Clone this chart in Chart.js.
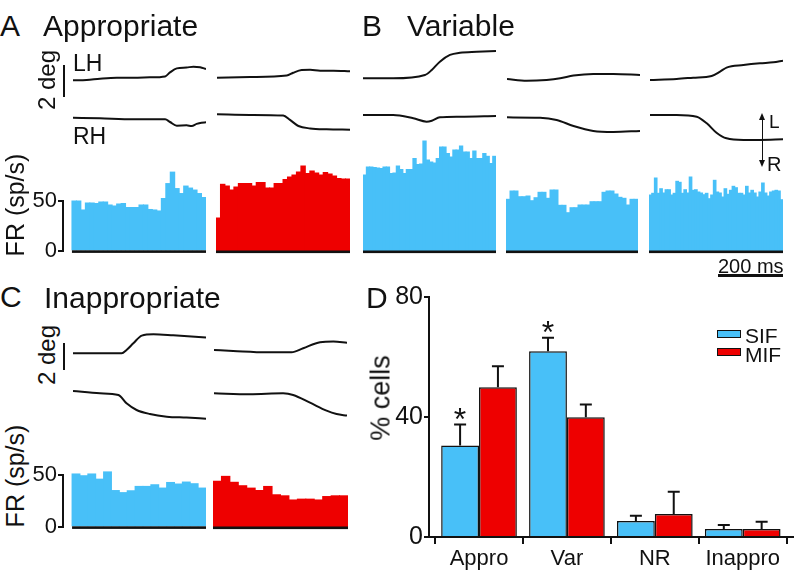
<!DOCTYPE html>
<html><head><meta charset="utf-8">
<script src="https://cdn.jsdelivr.net/npm/chart.js@4.4.1/dist/chart.umd.min.js"></script>
<style>
html,body{margin:0;padding:0;background:#fff;}
#fig{position:relative;width:796px;height:572px;overflow:hidden;font-family:"Liberation Sans",Arial,Helvetica,sans-serif;color:#111;}
#fig canvas{position:absolute;}
.t{position:absolute;white-space:nowrap;line-height:1;}
.rot{position:absolute;white-space:nowrap;line-height:1;transform:translate(-50%,-50%) rotate(-90deg);}
.ln{position:absolute;background:#111;}
.box{position:absolute;box-sizing:border-box;border:1.5px solid #111;}
</style></head><body><div id="fig"></div>
<script>
// ---------------- DATA ----------------
// Firing-rate histograms (sp/s), one value per bin
const A1_FR = [50,50,41,48,48,47.5,49,49,46,45,47,47.5,43.5,43.5,43.5,46,46,41.5,41,40,52.5,67.5,79,62.5,57.5,65,63,61,57.5,53.5];
const A2_FR = [33,66.7,65,61,64,67.5,67.5,67.5,65,68.5,68.5,63,63,67.5,67.5,71.5,74,76,79,85,77.5,80,78,76,78.5,77,75,72.5,72,72];
const B1_FR = [76,84,84,83.5,83,82.5,84,84,77.5,78,85,81.5,77.5,81.5,81.5,92.5,86.5,87,110,91,89,88,92.5,104,104,97.5,94,101,101,105,99,99,92.5,100,92.5,92.5,97.5,94.7,87.5,94.7];
const B2_FR = [51.7,60,60,54.3,54.3,55,50.3,53.3,58.7,58.7,52.7,61,61,45.7,45.7,38.3,43.3,43.3,46,46,46,49.3,49.3,49.3,58.7,60,60,57,53.7,52.7,46,51.7,51.7];
const B3_FR = [56,57.7,73,57.7,62.3,58,61.3,61.3,56,57.7,69.7,68.7,57.7,61.3,58,74,60.7,61.3,59,58,56.3,57.7,52.3,56,70.7,59,58,54,62.3,56.7,60.7,64.7,63.3,57.7,57.7,56,64.7,58,60.7,58,54,59,68,58,55,59,60,60.7,60,51.3];
const C1_FR = [51,49.3,51,46,53,35,33,34.8,39,39,40.6,37.4,42.8,41.3,43.2,41.6,37.4];
const C2_FR = [44,48.7,43,39.7,37.4,35.1,39,31,30,26,26.8,26.8,26,29.3,30,30];
const FR_TICKS = [0, 50];

// Eye position traces: [time (ms), position (deg)]
const A1_LH = [[0,4.36],[42,4.38],[83,4.46],[135,4.52],[186,4.52],[237,4.54],[284,4.6],[299,4.85],[320,5.1],[350,5.15],[371,5.21],[392,5.17],[410,5.06]];
const A1_RH = [[0,2.02],[83,1.98],[186,1.92],[284,1.92],[299,1.75],[320,1.52],[350,1.54],[366,1.5],[381,1.63],[396,1.71],[410,1.73]];
const A2_LH = [[0,4.52],[102,4.56],[215,4.65],[235,4.83],[261,5.0],[287,5.02],[318,4.96],[359,4.96],[410,4.92]];
const A2_RH = [[0,2.23],[102,2.19],[204,2.15],[225,1.88],[251,1.5],[287,1.35],[338,1.29],[410,1.27]];
const B1_LH = [[0,4.48],[93,4.48],[191,4.69],[212,5.0],[237,5.52],[268,5.94],[299,6.08],[351,6.14],[410,6.19]];
const B1_RH = [[0,2.19],[93,2.19],[155,1.98],[196,1.77],[212,1.83],[237,2.04],[299,2.08],[410,2.13]];
const B2_LH = [[0,4.44],[61,4.33],[122,4.38],[164,4.48],[205,4.65],[266,4.75],[328,4.75],[410,4.69]];
const B2_RH = [[0,2.04],[102,2.02],[153,1.88],[205,1.5],[266,1.19],[328,1.13],[410,1.19]];
const B3_LH = [[0,4.38],[82,4.44],[133,4.52],[190,4.63],[216,4.9],[236,5.15],[288,5.31],[339,5.42],[380,5.48],[410,5.58]];
const B3_RH = [[0,2.19],[82,2.19],[144,2.08],[175,1.67],[205,1.08],[236,0.73],[288,0.63],[339,0.63],[410,0.67]];
const C1_LH = [[0,5.75],[83,5.75],[150,5.75],[165,6.0],[186,6.5],[212,7.08],[248,7.18],[309,7.1],[410,6.93]];
const C1_RH = [[0,2.93],[83,2.75],[140,2.63],[165,2.0],[196,1.5],[237,1.2],[289,1.0],[350,0.93],[410,0.85]];
const C2_LH = [[0,6.0],[59,5.93],[162,5.83],[239,5.83],[275,6.13],[327,6.58],[368,6.63],[410,6.55]];
const C2_RH = [[0,2.75],[110,2.68],[213,2.75],[244,2.63],[296,2.05],[347,1.45],[378,1.2],[410,1.08]];
const T_SPAN = 410;

// Panel D: % cells
const D_CATEGORIES = ['Appro','Var','NR','Inappro'];
const SIF_PCT = [30.5, 62, 5.3, 2.7];
const SIF_SEM = [7, 4.5, 1.8, 1.3];
const MIF_PCT = [50, 40, 7.7, 2.7];
const MIF_SEM = [7, 4.2, 7.4, 2.4];
const SIF_SIG = [true, true, false, false];
const D_TICKS = [0, 40, 80];

// ---------------- STYLE ----------------
const FONT = '"Liberation Sans", Arial, Helvetica, sans-serif';
const BLUE = '#48c0f8';
const RED = '#ee0000';
const INK = '#111111';
const fig = document.getElementById('fig');

function mk(l,t,w,h){
  const c=document.createElement('canvas');
  c.width=w; c.height=h;
  c.style.left=l+'px'; c.style.top=t+'px'; c.style.width=w+'px'; c.style.height=h+'px';
  fig.appendChild(c); return c;
}
function txt(s,l,t,size,cls){
  const d=document.createElement('div'); d.className=cls||'t'; d.textContent=s;
  d.style.left=l+'px'; d.style.top=t+'px'; d.style.fontSize=size+'px'; fig.appendChild(d); return d;
}
function ln(l,t,w,h){ const d=document.createElement('div'); d.className='ln';
  d.style.left=l+'px'; d.style.top=t+'px'; d.style.width=w+'px'; d.style.height=h+'px'; fig.appendChild(d); }

const base = {responsive:false, animation:false, events:[], plugins:{legend:{display:false}, tooltip:{enabled:false}}};

function traceChart(l,t,w,h,yMax,series){
  new Chart(mk(l,t,w,h), {
    type:'line',
    data:{datasets:series.map(s=>({data:s.map(p=>({x:p[0],y:p[1]})), borderColor:INK, borderWidth:2,
      pointRadius:0, cubicInterpolationMode:'monotone', fill:false, clip:4}))},
    options:Object.assign({}, base, {layout:{padding:0},
      scales:{x:{type:'linear',min:0,max:T_SPAN,display:false}, y:{type:'linear',min:0,max:yMax,display:false}}})
  });
}

const baselinePlugin = {id:'baseline', afterDatasetsDraw(chart){
  const {ctx, scales:{x,y}} = chart; const n = chart.data.datasets[0].data.length;
  const y0 = y.getPixelForValue(0), x0 = x.getPixelForValue(-0.5), x1 = x.getPixelForValue(n-0.5);
  ctx.save(); ctx.fillStyle=INK; ctx.fillRect(x0, y0-0.5, x1-x0, 2.6); ctx.restore();
}};

function histChart(o){
  const n=o.vals.length;
  new Chart(mk(o.l,o.t,o.w,o.h), {
    type:'bar',
    data:{datasets:[{data:o.vals.map((v,i)=>({x:i,y:v})), backgroundColor:o.color, borderWidth:0,
      barPercentage:1, categoryPercentage:1, inflateAmount:0.5, clip:false}]},
    options:Object.assign({}, base, {
      layout:{padding:{top:o.pt,bottom:o.pb,left:0,right:0}},
      scales:{
        x:{type:'linear',display:false,offset:false,min:(o.xMin!==undefined?o.xMin:-0.5),max:n-0.5,
           afterBuildTicks:s=>{s.ticks=[{value:0}];}},
        y:{type:'linear',min:0,max:50,display:!!o.showY,
           afterBuildTicks:s=>{s.ticks=FR_TICKS.map(v=>({value:v}));},
           afterFit:s=>{if(o.showY) s.width=o.yW;},
           grid:{drawOnChartArea:false,drawTicks:true,tickLength:5,color:INK,lineWidth:2},
           border:{display:true,color:INK,width:2},
           ticks:{padding:1,color:INK,font:{family:FONT,size:22}}}
      }}),
    plugins:[baselinePlugin]
  });
}

// ---------------- PANELS A, B, C ----------------
traceChart(73,40,133,110,6.875,[A1_LH,A1_RH]);
traceChart(217,40,133,110,6.875,[A2_LH,A2_RH]);
traceChart(363,40,133,110,6.875,[B1_LH,B1_RH]);
traceChart(507,40,133,110,6.875,[B2_LH,B2_RH]);
traceChart(650,40,133,110,6.875,[B3_LH,B3_RH]);
traceChart(73,320,133,110,8.25,[C1_LH,C1_RH]);
traceChart(214,320,133,110,8.25,[C2_LH,C2_RH]);

histChart({l:30,t:130,w:176,h:135,pt:71,pb:14,vals:A1_FR,color:BLUE,showY:true,yW:33,xMin:-2.5});
histChart({l:216,t:130,w:134,h:135,pt:71,pb:14,vals:A2_FR,color:RED});
histChart({l:363,t:130,w:133,h:135,pt:71,pb:14,vals:B1_FR,color:BLUE});
histChart({l:506,t:130,w:132,h:135,pt:71,pb:14,vals:B2_FR,color:BLUE});
histChart({l:649,t:130,w:134,h:135,pt:71,pb:14,vals:B3_FR,color:BLUE});
histChart({l:30,t:455,w:176,h:86,pt:20,pb:14,vals:C1_FR,color:BLUE,showY:true,yW:33,xMin:-1.65});
histChart({l:213,t:455,w:135,h:86,pt:20,pb:14,vals:C2_FR,color:RED});

// ---------------- PANEL D ----------------
const errPlugin = {id:'err', afterDatasetsDraw(chart){
  const {ctx} = chart; const y = chart.scales.y;
  const sems=[SIF_SEM, MIF_SEM], pcts=[SIF_PCT, MIF_PCT];
  ctx.save(); ctx.strokeStyle=INK; ctx.fillStyle=INK; ctx.lineWidth=2;
  ctx.font='32px '+FONT; ctx.textAlign='center'; ctx.textBaseline='alphabetic';
  chart.data.datasets.forEach((ds,di)=>{
    chart.getDatasetMeta(di).data.forEach((bar,i)=>{
      const top = y.getPixelForValue(pcts[di][i]+sems[di][i]);
      ctx.beginPath(); ctx.moveTo(bar.x, bar.y); ctx.lineTo(bar.x, top);
      ctx.moveTo(bar.x-6, top); ctx.lineTo(bar.x+6, top); ctx.stroke();
      if(di===0 && SIF_SIG[i]) ctx.fillText('*', bar.x, top+5);
    });
  });
  ctx.restore();
}};

new Chart(mk(380,285,416,287), {
  type:'bar',
  data:{datasets:[
    {label:'SIF', data:SIF_PCT.map((v,i)=>({x:i,y:v})), backgroundColor:BLUE, borderColor:INK, borderWidth:1.5, barPercentage:1, categoryPercentage:0.861},
    {label:'MIF', data:MIF_PCT.map((v,i)=>({x:i,y:v})), backgroundColor:RED, borderColor:INK, borderWidth:1.5, barPercentage:1, categoryPercentage:0.861}
  ]},
  options:Object.assign({}, base, {
    layout:{padding:{top:12,right:3,left:0,bottom:0}},
    scales:{
      x:{type:'linear',offset:false,min:-0.569,max:3.572,
         afterBuildTicks:s=>{s.ticks=D_CATEGORIES.map((c,i)=>({value:i}));},
         afterFit:s=>{s.height=35;},
         grid:{drawOnChartArea:false,drawTicks:true,tickLength:7,color:INK,lineWidth:2},
         border:{display:true,color:INK,width:2},
         ticks:{padding:2,color:INK,maxRotation:0,autoSkip:false,font:{family:FONT,size:22},callback:v=>D_CATEGORIES[v]}},
      y:{type:'linear',min:0,max:80,
         afterBuildTicks:s=>{s.ticks=D_TICKS.map(v=>({value:v}));},
         afterFit:s=>{s.width=49;},
         grid:{drawOnChartArea:false,drawTicks:true,tickLength:5,color:INK,lineWidth:2},
         border:{display:true,color:INK,width:2},
         ticks:{padding:1,color:INK,font:{family:FONT,size:25,lineHeight:0.9}}}
    }}),
  plugins:[errPlugin]
});

// ---------------- TEXT & SCALE BARS ----------------
txt('A',0,11,30); txt('Appropriate',43,11,30);
txt('B',362,11,30); txt('Variable',407,11,30);
txt('C',0,282,30); txt('Inappropriate',44,283,30);
txt('D',366,283,30);
txt('LH',73,52,23); txt('RH',73,125,23);
txt('2 deg',47,80,24,'rot'); ln(63,65,2,32);
txt('2 deg',47,355,24,'rot'); ln(63,343,2,27);
txt('FR (sp/s)',15,205,25,'rot');
txt('FR (sp/s)',15,476,25,'rot');
txt('% cells',381,398,27,'rot');
// L/R arrow
ln(761.5,118,1.6,44);
(function(){
  const up=document.createElement('div'); up.style.cssText='position:absolute;left:758.5px;top:113px;width:0;height:0;border-left:3.8px solid transparent;border-right:3.8px solid transparent;border-bottom:7px solid #111;'; fig.appendChild(up);
  const dn=document.createElement('div'); dn.style.cssText='position:absolute;left:758.5px;top:160px;width:0;height:0;border-left:3.8px solid transparent;border-right:3.8px solid transparent;border-top:7px solid #111;'; fig.appendChild(dn);
})();
txt('L',769,112,19); txt('R',767,154,20);
// time scale
ln(718,274,65,3); txt('200 ms',718,256,20);
// legend D
(function(){
  const b1=document.createElement('div'); b1.className='box'; b1.style.cssText+='left:717px;top:330px;width:24px;height:8px;background:'+BLUE+';'; fig.appendChild(b1);
  const b2=document.createElement('div'); b2.className='box'; b2.style.cssText+='left:717px;top:348px;width:24px;height:8px;background:'+RED+';'; fig.appendChild(b2);
})();
txt('SIF',745,325,21); txt('MIF',745,344,21);
</script></body></html>
